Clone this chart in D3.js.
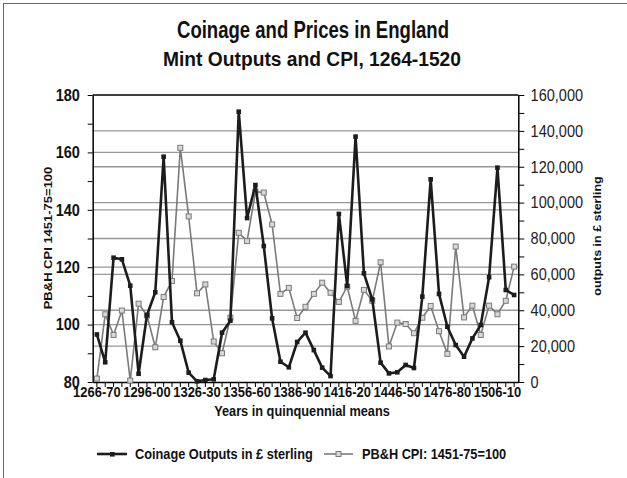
<!DOCTYPE html>
<html><head><meta charset="utf-8">
<script src="https://cdn.jsdelivr.net/npm/d3@7"></script>
<style>
body{margin:0;background:#fff}
svg{display:block}
text{font-family:"Liberation Sans",Arial,Helvetica,sans-serif}
</style>
</head><body>
<svg id="c" width="627" height="478"></svg>
<script>
const categories = ["1266-70","1271-75","1276-80","1281-85","1286-90","1291-95","1296-00","1301-05","1306-10","1311-15","1316-20","1321-25","1326-30","1331-35","1336-40","1341-45","1346-50","1351-55","1356-60","1361-65","1366-70","1371-75","1376-80","1381-85","1386-90","1391-95","1396-00","1401-05","1406-10","1411-15","1416-20","1421-25","1426-30","1431-35","1436-40","1441-45","1446-50","1451-55","1456-60","1461-65","1466-70","1471-75","1476-80","1481-85","1486-90","1491-95","1496-00","1501-05","1506-10","1511-15","1516-20"];
const coinage = [26500,11000,69300,68400,53700,4600,37200,50000,125600,33300,23000,5200,400,1100,1500,27500,34200,150700,91400,109800,75800,35500,11300,8200,22300,27500,17800,8000,3300,93700,53500,136800,60600,46100,10800,4800,5400,9500,7800,47600,113000,49100,30800,20600,14100,24300,31800,58400,119500,51300,48500];
const cpi = [81.2,103.6,96.4,104.9,80.5,107.3,103.2,92.1,109.6,115.2,161.6,137.7,110.9,114.0,94.1,90.0,102.4,132.0,129.1,146.3,146.0,134.9,110.7,112.8,102.3,106.2,110.7,114.6,111.1,107.9,113.2,101.3,112.1,108.3,121.7,92.4,100.7,100.2,97.0,102.4,106.5,97.7,89.8,127.2,102.5,106.6,96.4,106.6,103.6,108.3,120.2];
const leftTicks = [80,100,120,140,160,180];
const leftMinor = [80,90,100,110,120,130,140,150,160,170,180];
const rightTicks = [0,20000,40000,60000,80000,100000,120000,140000,160000];
const rightMinor = [0,10000,20000,30000,40000,50000,60000,70000,80000,90000,100000,110000,120000,130000,140000,150000,160000];
const xLabels = ["1266-70","1296-00","1326-30","1356-60","1386-90","1416-20","1446-50","1476-80","1506-10"];
const titleText = "Coinage and Prices in England";
const subtitleText = "Mint Outputs and CPI, 1264-1520";
const xTitle = "Years in quinquennial means";
const yLeftTitle = "PB&H CPI 1451-75=100";
const yRightTitle = "outputs in \u00a3 sterling";
const seriesNames = ["Coinage Outputs in \u00a3 sterling","PB&H CPI: 1451-75=100"];

const W = 627, H = 478, SX = 0.88;
const m = {l:92.7, r:518.3, t:95, b:382};
const BLACK = "#1c1c1c", GREY = "#7a7a7a", GRID = "#989898";
const svg = d3.select("#c");

svg.append("rect").attr("x",3.5).attr("y",3.5).attr("width",W).attr("height",H)
  .attr("fill","none").attr("stroke","#666").attr("stroke-width",1);

const x = d3.scaleBand().domain(categories).range([m.l, m.r]);
const cx = d => x(d) + x.bandwidth()/2;
const yL = d3.scaleLinear().domain([80,180]).range([m.b, m.t]);
const yR = d3.scaleLinear().domain([0,160000]).range([m.b, m.t]);

function txt(s, tx, ty, size, weight, anchor, rot) {
  return svg.append("text")
    .attr("transform", `translate(${tx},${ty}) scale(${SX},1)` + (rot ? " rotate(-90)" : ""))
    .attr("text-anchor", anchor).attr("font-size", size).attr("font-weight", weight)
    .attr("fill", "#111").text(s);
}
function fitTxt(s, tx, ty, size, len) {
  return svg.append("text").attr("x", tx).attr("y", ty)
    .attr("text-anchor", "middle").attr("font-size", size).attr("font-weight", "bold")
    .attr("textLength", len).attr("lengthAdjust", "spacingAndGlyphs")
    .attr("fill", "#111").text(s);
}

// gridlines
const grid = svg.append("g").attr("stroke", GRID).attr("stroke-width", 1.3);
grid.selectAll("line.gl").data(leftTicks.filter(d => d > 80 && d < 180)).join("line").attr("class","gl")
  .attr("x1", m.l).attr("x2", m.r).attr("y1", d => yL(d)).attr("y2", d => yL(d));
grid.selectAll("line.gr").data(rightTicks.filter(d => d > 0 && d < 160000)).join("line").attr("class","gr")
  .attr("x1", m.l).attr("x2", m.r).attr("y1", d => yR(d)).attr("y2", d => yR(d));

// frame top
svg.append("line").attr("x1", m.l).attr("x2", m.r).attr("y1", m.t).attr("y2", m.t)
  .attr("stroke", "#000").attr("stroke-width", 1.5);

// left axis
const gL = svg.append("g").attr("transform", `translate(${m.l},0)`);
gL.call(d3.axisLeft(yL).tickValues(leftMinor).tickSize(5).tickSizeOuter(0).tickFormat(""));
const gLl = svg.append("g").attr("transform", `translate(${m.l},0)`);
gLl.call(d3.axisLeft(yL).tickValues(leftTicks).tickSize(0).tickPadding(14.5).tickFormat(d3.format("d")));
gLl.select(".domain").remove();
gLl.selectAll("text").attr("transform", `scale(${SX},1)`).attr("font-size", 16.5).attr("font-weight", "bold")
  .attr("fill", "#111").attr("font-family", '"Liberation Sans",Arial,sans-serif');

// right axis
const gR = svg.append("g").attr("transform", `translate(${m.r},0)`);
gR.call(d3.axisRight(yR).tickValues(rightMinor).tickSize(6).tickSizeOuter(0).tickFormat(""));
const gRl = svg.append("g").attr("transform", `translate(${m.r},0)`);
gRl.call(d3.axisRight(yR).tickValues(rightTicks).tickSize(0).tickPadding(14).tickFormat(d3.format(",")));
gRl.select(".domain").remove();
gRl.selectAll("text").attr("transform", `scale(${SX},1)`).attr("font-size", 16.5)
  .attr("fill", "#222").attr("font-family", '"Liberation Sans",Arial,sans-serif');

// bottom axis
const gB = svg.append("g").attr("transform", `translate(0,${m.b})`);
gB.call(d3.axisBottom(x).tickSize(5).tickSizeOuter(0).tickFormat(""));
const gBl = svg.append("g").attr("transform", `translate(0,${m.b})`);
gBl.call(d3.axisBottom(x).tickValues(xLabels).tickSize(0).tickPadding(5.5));
gBl.select(".domain").remove();
gBl.selectAll("text").attr("font-size", 14).attr("font-weight", "bold").attr("fill", "#111")
  .attr("textLength", 47.5).attr("lengthAdjust", "spacingAndGlyphs")
  .attr("font-family", '"Liberation Sans",Arial,sans-serif');

[gL, gR, gB].forEach(g => { g.selectAll("path,line").attr("stroke", "#000"); g.select(".domain").attr("stroke-width", 1.5); });

// series: CPI (grey) first, coinage (black) on top
const lineL = d3.line().x((d,i) => cx(categories[i])).y(d => yL(d));
const lineR = d3.line().x((d,i) => cx(categories[i])).y(d => yR(d));
svg.append("path").attr("d", lineL(cpi)).attr("fill","none").attr("stroke", GREY).attr("stroke-width", 1.6);
svg.append("g").selectAll("rect").data(cpi).join("rect")
  .attr("x", (d,i) => cx(categories[i]) - 2.5).attr("y", d => yL(d) - 2.5)
  .attr("width", 5).attr("height", 5).attr("fill", "#d8d8d8").attr("stroke", GREY).attr("stroke-width", 1);

svg.append("path").attr("d", lineR(coinage)).attr("fill","none").attr("stroke", BLACK).attr("stroke-width", 2.6)
  .attr("stroke-linejoin","round");
svg.append("g").selectAll("rect").data(coinage).join("rect")
  .attr("x", (d,i) => cx(categories[i]) - 2.3).attr("y", d => yR(d) - 2.3)
  .attr("width", 4.6).attr("height", 4.6).attr("fill", BLACK);

// titles
fitTxt(titleText, 313, 38, 23, 272);
fitTxt(subtitleText, 312, 66, 19.5, 298);
txt(xTitle, 302, 415.5, 14.5, "bold", "middle");
txt(yLeftTitle, 52, 238, 13, "bold", "middle", true);
txt(yRightTitle, 601, 236, 12.5, "bold", "middle", true);

// legend
const lg = svg.append("g");
lg.append("line").attr("x1", 97).attr("x2", 127).attr("y1", 454).attr("y2", 454).attr("stroke", BLACK).attr("stroke-width", 2.6);
lg.append("rect").attr("x", 110).attr("y", 452).attr("width", 4.6).attr("height", 4.6).attr("fill", BLACK);
txt(seriesNames[0], 135, 459, 14.5, "bold", "start");
lg.append("line").attr("x1", 324).attr("x2", 353).attr("y1", 454).attr("y2", 454).attr("stroke", GREY).attr("stroke-width", 1.6);
lg.append("rect").attr("x", 336).attr("y", 451.5).attr("width", 5).attr("height", 5).attr("fill", "#d8d8d8").attr("stroke", GREY);
txt(seriesNames[1], 362, 459, 14.5, "bold", "start");
</script>
</body></html>
